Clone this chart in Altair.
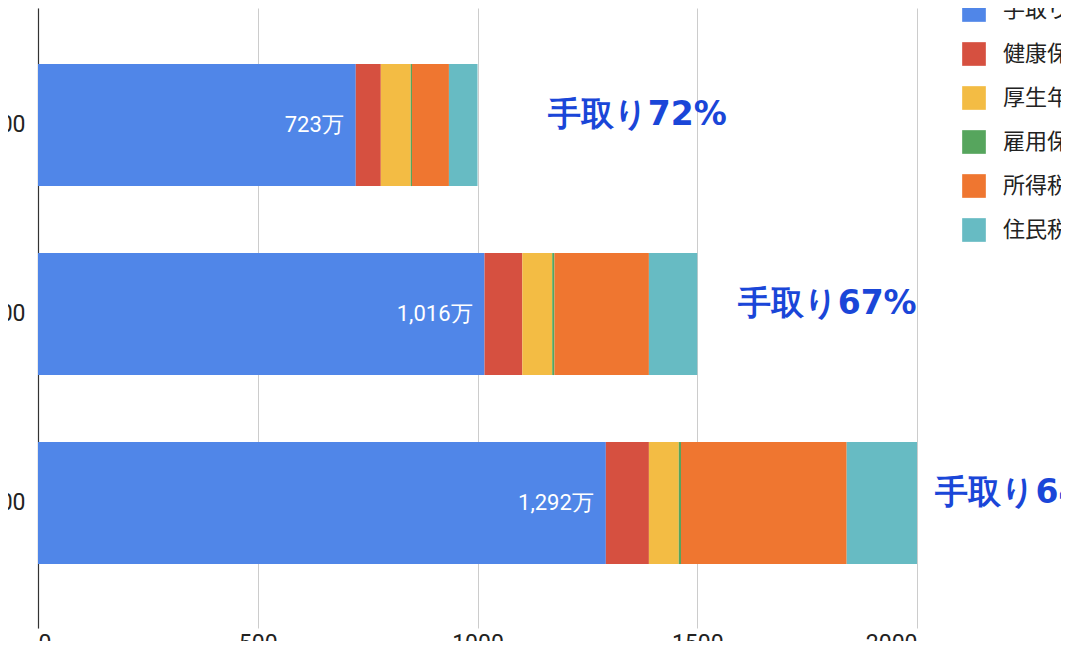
import altair as alt
import pandas as pd

# ---- data (万円) ----
salaries = ["1000", "1500", "2000"]
components = ["手取り", "健康保険", "厚生年金", "雇用保険", "所得税", "住民税"]
take_home = [723, 1016, 1292]
health = [57, 86, 98]
pension = [68, 68, 68]
employment = [3, 5, 5]
income_tax = [84, 215, 377]
resident_tax = [65, 110, 160]
colors = ["#5086e8", "#d65040", "#f3bc44", "#56a55d", "#ef7630", "#67bbc3"]

ann_text = ["手取り72%", "手取り67%", "手取り64%"]
ann_x = [1160, 1592, 2042]

series = [take_home, health, pension, employment, income_tax, resident_tax]
rows = []
for i, s in enumerate(salaries):
    for j, c in enumerate(components):
        rows.append({"salary": s, "component": c, "value": series[j][i], "order": j})
df = pd.DataFrame(rows)

lab = pd.DataFrame({
    "salary": salaries,
    "value": take_home,
    "label": [f"{v:,}万" for v in take_home],
})
ann = pd.DataFrame({"salary": salaries, "x": ann_x, "text": ann_text})

y_enc = alt.Y(
    "salary:N",
    sort=salaries,
    title=None,
    scale=alt.Scale(paddingInner=0.3545, paddingOuter=0.3175, align=0.467),
    axis=alt.Axis(
        domain=True, domainColor="#333333", domainWidth=1.2,
        ticks=False, grid=False,
        labelFont="Roboto", labelFontSize=23, labelColor="#222222",
        labelPadding=13,
    ),
)

bars = alt.Chart(df).mark_bar().encode(
    y=y_enc,
    x=alt.X(
        "value:Q",
        stack="zero",
        title=None,
        scale=alt.Scale(domain=[0, 2000], nice=False),
        axis=alt.Axis(
            values=[0, 500, 1000, 1500, 2000],
            domain=False, ticks=False, grid=True,
            gridColor="#cccccc", gridWidth=1,
            labelFont="Roboto", labelFontSize=23, labelColor="#222222",
            labelPadding=4, format="d",
        ),
    ),
    color=alt.Color(
        "component:N",
        sort=components,
        scale=alt.Scale(domain=components, range=colors),
        legend=alt.Legend(
            title=None,
            orient="none",
            legendX=924,
            legendY=-10,
            symbolType="square",
            symbolSize=560,
            symbolStrokeWidth=0,
            labelFont="Noto Sans CJK JP",
            labelFontSize=22,
            labelColor="#222222",
            labelOffset=17,
            rowPadding=20,
            labelLimit=400,
            padding=0,
        ),
    ),
    order=alt.Order("order:Q", sort="ascending"),
)

inner = alt.Chart(lab).mark_text(
    align="right", baseline="middle", dx=-12,
    font="Roboto", fontSize=22, color="white",
).encode(
    y=alt.Y("salary:N", sort=salaries),
    x=alt.X("value:Q"),
    text="label:N",
)

notes = alt.Chart(ann).mark_text(
    align="left", baseline="middle", dy=-10,
    font="DejaVu Sans", fontSize=33, fontWeight="bold", color="#1a46d8",
).encode(
    y=alt.Y("salary:N", sort=salaries),
    x=alt.X("x:Q"),
    text="text:N",
)

chart = alt.layer(bars, inner, notes).properties(
    width=879,
    height=620,
    autosize=alt.AutoSizeParams(type="none"),
    padding={"left": 30, "top": 0, "right": 144, "bottom": 13},
).configure_view(stroke=None)

chart.save("out.html", embed_options={"renderer": "svg", "actions": False})
